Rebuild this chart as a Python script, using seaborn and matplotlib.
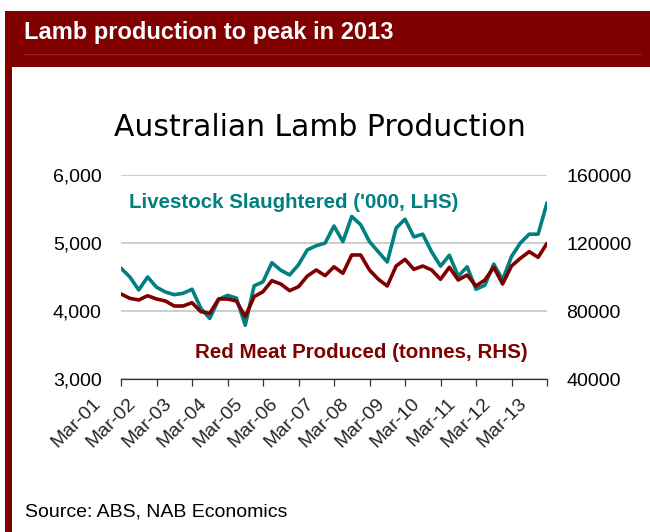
import numpy as np
import pandas as pd
import seaborn as sns
import matplotlib.pyplot as plt
import matplotlib.transforms as mtransforms
from matplotlib.patches import Rectangle
from matplotlib.lines import Line2D
from matplotlib.ticker import FuncFormatter

# quarterly data, Mar-01 .. Mar-13
livestock = [4630, 4500, 4310, 4500, 4350, 4280, 4240, 4260, 4320, 4040,
             3890, 4170, 4230, 4190, 3790, 4370, 4430, 4710, 4600, 4530,
             4680, 4900, 4960, 5000, 5250, 5020, 5390, 5270, 5020, 4870,
             4720, 5220, 5350, 5090, 5130, 4870, 4660, 4820, 4510, 4650,
             4320, 4380, 4690, 4460, 4800, 5000, 5130, 5130, 5590]
red_meat = [90000, 87450, 86470, 89000, 87060, 85880, 82940, 82940, 84900, 79600,
            78630, 87060, 87060, 85880, 76670, 88430, 91370, 97840, 95880, 91960,
            94310, 100590, 104120, 100780, 106000, 102180, 112940, 112940, 104120, 98650,
            94710, 106470, 110390, 104510, 106470, 104120, 98650, 105710, 98240, 101180,
            94710, 98240, 105710, 95880, 106470, 111000, 114900, 111570, 119800]
year_labels = ['Mar-01', 'Mar-02', 'Mar-03', 'Mar-04', 'Mar-05', 'Mar-06', 'Mar-07',
               'Mar-08', 'Mar-09', 'Mar-10', 'Mar-11', 'Mar-12', 'Mar-13']
left_ticks = [3000, 4000, 5000, 6000]
right_ticks = [40000, 80000, 120000, 160000]

df = pd.DataFrame({'q': np.arange(len(livestock)), 'livestock': livestock, 'red': red_meat})

sns.set_style('white')
plt.rcParams['font.family'] = ['Liberation Sans', 'DejaVu Sans']

W, H = 650, 532
fig = plt.figure(figsize=(W / 100, H / 100), dpi=100)

def px(x, y):
    return x / W, 1 - y / H

# banner + left bar
fig.add_artist(Rectangle(px(5, 67), 645 / W, 56 / H, transform=fig.transFigure,
                         color='#800000', lw=0))
fig.add_artist(Rectangle(px(5, 532), 6.5 / W, 521 / H, transform=fig.transFigure,
                         color='#800000', lw=0))
fig.add_artist(Line2D([23 / W, 641 / W], [1 - 54 / H] * 2, transform=fig.transFigure,
                      color='#962222', lw=0.8))
fig.text(24 / W, 1 - 33 / H, 'Lamb production to peak in 2013', color='white',
         fontsize=17, fontweight='bold', va='center', ha='left')

ax = fig.add_axes([121 / W, 1 - 379 / H, 426 / W, 204 / H])
ax2 = ax.twinx()

sns.lineplot(data=df, x='q', y='livestock', ax=ax, color='#008080', lw=2.6)
sns.lineplot(data=df, x='q', y='red', ax=ax2, color='#800000', lw=2.6)

ax.set_xlim(0, len(livestock) - 1)
ax.set_ylim(3000, 6000)
ax2.set_ylim(40000, 160000)
ax.set_yticks(left_ticks)
ax2.set_yticks(right_ticks)
ax.yaxis.set_major_formatter(FuncFormatter(lambda v, p: f'{v:,.0f}'))
ax2.yaxis.set_major_formatter(FuncFormatter(lambda v, p: f'{v:.0f}'))
year_pos = np.arange(0, len(livestock), 4)
ax.set_xticks(year_pos)
ax.set_xticklabels([])

# rotated labels sit a bit left of their ticks, like the excel original
trans = mtransforms.blended_transform_factory(ax.transData, ax.transAxes) + \
    mtransforms.ScaledTranslation(-0.23, -0.22, fig.dpi_scale_trans)
for pos, lab in zip(year_pos, year_labels):
    ax.text(pos, 0, lab, transform=trans, rotation=45, rotation_mode='anchor',
            ha='right', va='center', fontsize=14, clip_on=False)

for a in (ax, ax2):
    for s in a.spines.values():
        s.set_visible(False)
    a.set_xlabel('')
    a.set_ylabel('')
ax.spines['bottom'].set_visible(True)
ax.spines['bottom'].set_color('#333333')
ax.spines['bottom'].set_linewidth(0.9)

ax.yaxis.grid(True, color='#c0c0c0', lw=1.1)
ax.set_axisbelow(True)
ax.tick_params(axis='y', length=0, pad=14, labelsize=14, colors='black')
ax2.tick_params(axis='y', length=0, pad=14, labelsize=14, colors='black')
ax.tick_params(axis='x', direction='out', length=5, width=0.9, color='#333333',
               bottom=True)

ax.text(8 / 426, 1 - 28 / 204, "Livestock Slaughtered ('000, LHS)", transform=ax.transAxes,
        color='#008080', fontsize=14.8, fontweight='bold', va='center', ha='left')
ax.text(74 / 426, 1 - 178 / 204, 'Red Meat Produced (tonnes, RHS)', transform=ax.transAxes,
        color='#800000', fontsize=14.8, fontweight='bold', va='center', ha='left')

fig.text(320 / W, 1 - 127 / H, 'Australian Lamb Production', family='DejaVu Sans',
         fontsize=21.5, ha='center', va='center', color='black')
fig.text(25 / W, 1 - 512 / H, 'Source: ABS, NAB Economics', fontsize=14,
         ha='left', va='center', color='black')

fig.savefig('out.png', dpi=100)
